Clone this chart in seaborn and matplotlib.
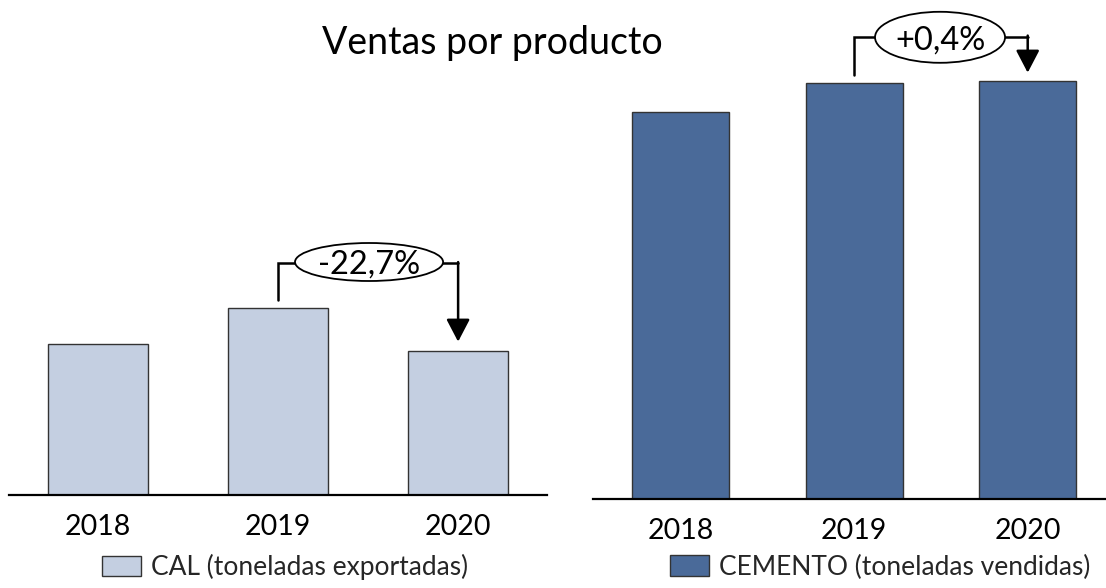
import matplotlib
matplotlib.use("Agg")
import matplotlib.pyplot as plt
from matplotlib.patches import Ellipse
import seaborn as sns

# ---- data ----
years = ["2018", "2019", "2020"]
cal_values = [150.7, 186.7, 144.3]        # CAL (toneladas exportadas)
cemento_values = [387.3, 416.3, 418.0]    # CEMENTO (toneladas vendidas)
title = "Ventas por producto"
cal_label = "CAL (toneladas exportadas)"
cemento_label = "CEMENTO (toneladas vendidas)"

sns.set_theme(style="white")
plt.rcParams['font.family'] = ['Lato', 'DejaVu Sans']

W, H = 1106, 588
fig = plt.figure(figsize=(W / 100, H / 100), dpi=100)

light = "#c4cfe1"
dark = "#4a6a99"
edge = "#333333"

def fmt_pct(a, b):
    p = (b / a - 1) * 100
    s = f"{p:+.1f}".replace(".", ",")
    return s + "%"

def make_panel(rect, values, color, width, xlim, ytop, label, leg_x, leg_y,
               bracket_y, start_off, tip_off, ell_cx, ell_cy, ell_w, ell_h):
    ax = fig.add_axes(rect)
    sns.barplot(x=years, y=values, color=color, width=width, saturation=1,
                edgecolor=edge, linewidth=1.0, ax=ax)
    ax.set_xlim(*xlim)
    ax.set_ylim(0, ytop)
    for s in ["left", "top", "right"]:
        ax.spines[s].set_visible(False)
    ax.spines["bottom"].set_color("black")
    ax.spines["bottom"].set_linewidth(1.6)
    ax.set_yticks([])
    ax.set_xlabel("")
    ax.set_ylabel("")
    ax.tick_params(axis="x", length=0, pad=14, labelsize=20.5, labelcolor="black")
    # bracket + arrow
    y0 = values[1] + start_off
    y1 = values[2] + tip_off
    ax.plot([1, 1, 2], [y0, bracket_y, bracket_y], color="black", lw=1.8,
            solid_joinstyle="miter", clip_on=False, zorder=3)
    ax.annotate("", xy=(2, y1), xytext=(2, bracket_y + 0.9),
                arrowprops=dict(arrowstyle="-|>,head_length=1.15,head_width=0.6",
                                color="black", lw=1.8, shrinkA=0, shrinkB=0),
                zorder=3, annotation_clip=False)
    e = Ellipse((ell_cx, ell_cy), ell_w, ell_h, facecolor="white",
                edgecolor="black", lw=1.3, zorder=4, clip_on=False)
    ax.add_patch(e)
    ax.text(ell_cx, ell_cy, fmt_pct(values[1], values[2]), ha="center",
            va="center_baseline", fontsize=23.5, color="black", zorder=5)
    fs = 19
    fpx = fs * 100 / 72
    ax.legend(handles=[ax.patches[0]], labels=[label], loc="center left",
              bbox_to_anchor=(leg_x / W, 1 - leg_y / H),
              bbox_transform=fig.transFigure, frameon=False, fontsize=fs,
              handlelength=39 / fpx, handleheight=22 / fpx,
              handletextpad=10 / fpx, borderpad=0, borderaxespad=0)
    return ax

# left panel: baseline at 495 px, spine 9..547 px
make_panel([9 / W, 1 - 495 / H, 538 / W, 495 / H], cal_values, light, 0.556,
           (-0.496, 2.494), 495, cal_label, 102, 567,
           bracket_y=232, start_off=8.3, tip_off=9.0,
           ell_cx=1.505, ell_cy=233, ell_w=0.823, ell_h=38)

# right panel: baseline at 499 px, spine 593..1106 px
make_panel([593 / W, 1 - 499 / H, 513 / W, 499 / H], cemento_values, dark, 0.559,
           (-0.504, 2.451), 499, cemento_label, 670, 567,
           bracket_y=462.5, start_off=7.7, tip_off=8.3,
           ell_cx=1.495, ell_cy=461.7, ell_w=0.749, ell_h=51)

fig.text(492.5 / W, 1 - 43 / H, title, ha="center", va="center",
         fontsize=27, color="black")

fig.savefig("out.png", dpi=100, facecolor="white")
